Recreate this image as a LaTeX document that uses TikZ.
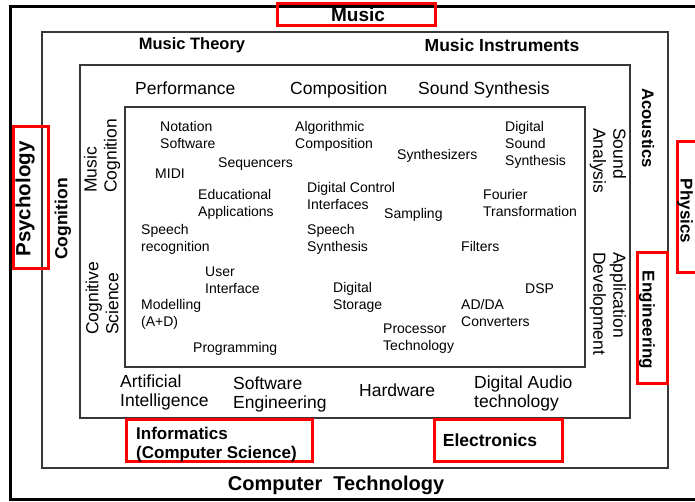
\documentclass[tikz,border=0pt]{standalone}
\usepackage{fontspec}
\setmainfont{Liberation Sans}
\begin{document}
\begin{tikzpicture}[x=1pt,y=-1pt,
  frame/.style={draw=black!78,line width=1.4pt},
  redbox/.style={draw=red,line width=3pt},
  head/.style={font=\bfseries\fontsize{#1}{#1}\selectfont,inner sep=0pt},
  ringtext/.style={font=\fontsize{17.5}{19.5}\selectfont,align=left,anchor=base west,inner sep=0pt},
  sidetext/.style={font=\fontsize{17.5}{20}\selectfont,align=left,anchor=west,inner sep=0pt},
  topic/.style={font=\fontsize{14}{17}\selectfont,align=left,anchor=base west,inner sep=0pt}]
% multi-line nodes sit on the baseline of their last line
\useasboundingbox (0,0) rectangle (695,501);
\clip (0,0) rectangle (695,501);
\fill[white] (0,0) rectangle (695,501);

% nested frames
\draw[line width=3pt] (10,6) rectangle (720,499);
\draw[frame] (42,32) rectangle (668,468);
\draw[frame] (80,65) rectangle (630,418);
\draw[frame] (125,107) rectangle (585,367);

% highlighted disciplines
\draw[redbox] (277,3) rectangle (435,25);
\draw[redbox] (13,126) rectangle (48,268);
\draw[redbox] (677,141) rectangle (720,272);
\draw[redbox] (637,252) rectangle (667,383);
\draw[redbox] (126,419) rectangle (312,461);
\draw[redbox] (434,419) rectangle (562,461);

% outer disciplines
\node[head=19] (music) at (358,15) {Music};
\node[head=20.5,rotate=90] (psych) at (25,199) {Psychology};
\node[head=17,rotate=-90] (phys) at (685,211) {Physics};
\node[head=20] (comptech) at (336,485) {Computer\ \ Technology};

% second ring
\node[head=16.5] (theory) at (192,45) {Music Theory};
\node[head=17.5] (instr) at (502,45) {Music Instruments};
\node[head=17.5,rotate=90] (cogn) at (63,219) {Cognition};
\node[head=16.7,rotate=-90] (acou) at (648,128) {Acoustics};
\node[head=17,rotate=-90] (engi) at (647,320) {Engineering};
\node[head=17,align=left,anchor=base west,font=\bfseries\fontsize{17}{19}\selectfont] (infor) at (136,458) {Informatics\\(Computer Science)};
\node[head=17.5] (elec) at (490,440) {Electronics};

% third ring
\node[ringtext] (perf) at (135,94) {Performance};
\node[ringtext] (comp) at (290,94) {Composition};
\node[ringtext] (ssyn) at (418,94) {Sound Synthesis};
\node[ringtext] (ai) at (120,406.5) {Artificial\\Intelligence};
\node[ringtext] (swe) at (233,408.5) {Software\\Engineering};
\node[ringtext] (hw) at (359,396) {Hardware};
\node[ringtext] (dat) at (474,407.5) {Digital Audio\\technology};
\node[sidetext,rotate=90] (mcog) at (102,193) {Music\\Cognition};
\node[sidetext,rotate=90] (csci) at (102,335) {Cognitive\\Science};
\node[sidetext,rotate=-90] (sana) at (608,128) {Sound\\Analysis};
\node[sidetext,rotate=-90] (adev) at (608,252) {Application\\Development};

% core topics
\node[topic] (nota) at (160,148) {Notation\\Software};
\node[topic] (midi) at (155,178) {MIDI};
\node[topic] (seq) at (218,167) {Sequencers};
\node[topic] (edu) at (198,216) {Educational\\Applications};
\node[topic] (sprec) at (141,251) {Speech\\recognition};
\node[topic] (ui) at (205,293) {User\\Interface};
\node[topic] (model) at (141,326) {Modelling\\(A+D)};
\node[topic] (prog) at (193,352) {Programming};
\node[topic] (algo) at (295,148) {Algorithmic\\Composition};
\node[topic] (dci) at (307,209) {Digital Control\\Interfaces};
\node[topic] (spsyn) at (307,251) {Speech\\Synthesis};
\node[topic] (dstor) at (333,309) {Digital\\Storage};
\node[topic] (proc) at (383,350) {Processor\\Technology};
\node[topic] (synth) at (397,159) {Synthesizers};
\node[topic] (samp) at (384,218) {Sampling};
\node[topic] (filt) at (461,251) {Filters};
\node[topic] (adda) at (461,326) {AD/DA\\Converters};
\node[topic] (dsp) at (525,293) {DSP};
\node[topic] (dss) at (505,165) {Digital\\Sound\\Synthesis};
\node[topic] (four) at (483,216) {Fourier\\Transformation};
\end{tikzpicture}
\end{document}
